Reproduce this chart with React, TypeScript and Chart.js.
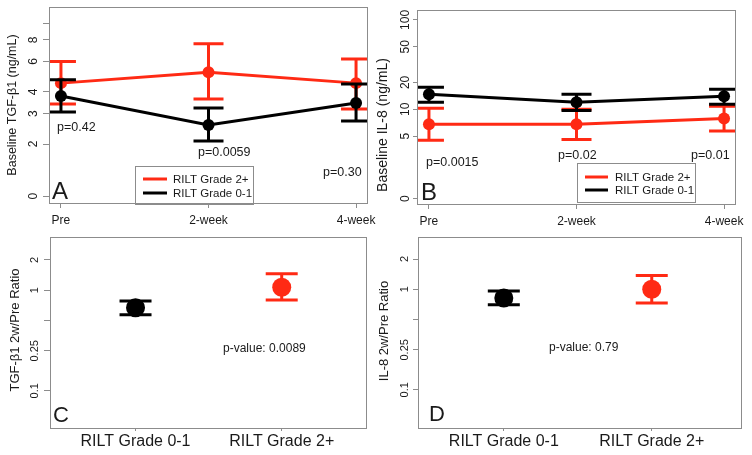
import React, { useEffect, useRef } from "react";
import { Chart, registerables } from "chart.js";
Chart.register(...registerables);

const FONT = "'Liberation Sans', Arial, Helvetica, sans-serif";
const RED = "#ff2a14";
const BLACK = "#000000";
const GRAY = "#8c8c8c";
const TEXT = "#1a1a1a";

// ---------- Panel A : baseline TGF-β1 ----------
const timeLabels = ["Pre", "2-week", "4-week"];
const timeX = [1, 2, 3];
const tgfHighMean = [4.5, 5.2, 4.5];
const tgfHighLow = [3.41, 3.64, 3.19];
const tgfHighUp = [6.0, 7.6, 6.2];
const tgfLowMean = [3.79, 2.58, 3.45];
const tgfLowLow = [3.06, 2.08, 2.72];
const tgfLowUp = [4.7, 3.23, 4.45];
const tgfTicks = [1, 2, 3, 4, 6, 8, 10];
const tgfTickLabels = ["0", "2", "3", "4", "6", "8", ""];
const tgfPValues = ["p=0.42", "p=0.0059", "p=0.30"];

// ---------- Panel B : baseline IL-8 ----------
const il8HighMean = [6.8, 6.8, 7.9];
const il8HighLow = [4.5, 4.6, 5.7];
const il8HighUp = [10.3, 10.0, 10.8];
const il8LowMean = [14.7, 12.0, 14.0];
const il8LowLow = [12.0, 9.7, 11.4];
const il8LowUp = [17.6, 14.7, 16.8];
const il8Ticks = [1, 5, 10, 20, 50, 100];
const il8TickLabels = ["0", "5", "10", "20", "50", "100"];
const il8PValues = ["p=0.0015", "p=0.02", "p=0.01"];

// ---------- Panels C, D : 2w/Pre ratios ----------
const groupLabels = ["RILT Grade 0-1", "RILT Grade 2+"];
const groupX = [1, 2];
const tgfRatioMean = [0.67, 1.07];
const tgfRatioLow = [0.57, 0.8];
const tgfRatioUp = [0.78, 1.46];
const il8RatioMean = [0.82, 1.0];
const il8RatioLow = [0.7, 0.73];
const il8RatioUp = [0.96, 1.37];
const ratioTicks = [0.1, 0.25, 0.5, 1, 2];
const ratioTickLabels = ["0.1", "0.25", "", "1", "2"];
const tgfRatioP = "p-value: 0.0089";
const il8RatioP = "p-value: 0.79";

const legendLabels = ["RILT Grade 2+", "RILT Grade 0-1"];
const legendColors = [RED, BLACK];

type Series = {
  x: number[]; mean: number[]; low: number[]; up: number[];
  color: string; radius: number; showLine: boolean; cap: number; width: number;
};
type TextItem = { text: string; x: number; y: number; size: number; rotate?: boolean; align?: CanvasTextAlign };
type Legend = { x: number; y: number; w: number; h: number; lineX0: number; lineX1: number; textX: number; rows: number[]; size: number };
type Panel = {
  left: number; top: number; w: number; h: number;
  area: { l: number; t: number; r: number; b: number };
  xMin: number; xMax: number; xTicks: number[]; xLabels: string[]; xSize: number; xPad: number; xTickLen: number;
  yMin: number; yMax: number; yTicks: number[]; yLabels: string[]; ySize: number; yPad: number; yTickLen: number;
  series: Series[]; texts: TextItem[]; legend?: Legend;
};

function makeDecor(cfg: Panel) {
  return {
    id: "panelDecor",
    beforeDatasetDraw(chart: any, args: any) {
      const s = cfg.series[args.index];
      if (!s) return;
      const xs = chart.scales.x, ys = chart.scales.y;
      const ctx = chart.ctx as CanvasRenderingContext2D;
      const a = chart.chartArea;
      ctx.save();
      ctx.beginPath();
      ctx.rect(a.left, a.top, a.right - a.left, a.bottom - a.top);
      ctx.clip();
      ctx.strokeStyle = s.color;
      ctx.lineWidth = s.width;
      ctx.lineCap = "butt";
      s.x.forEach((xv, i) => {
        const px = xs.getPixelForValue(xv);
        const lo = ys.getPixelForValue(s.low[i]);
        const hi = ys.getPixelForValue(s.up[i]);
        ctx.beginPath();
        ctx.moveTo(px, lo); ctx.lineTo(px, hi);
        ctx.moveTo(px - s.cap, lo); ctx.lineTo(px + s.cap, lo);
        ctx.moveTo(px - s.cap, hi); ctx.lineTo(px + s.cap, hi);
        ctx.stroke();
      });
      ctx.restore();
    },
    afterDraw(chart: any) {
      const ctx = chart.ctx as CanvasRenderingContext2D;
      const a = chart.chartArea;
      ctx.save();
      ctx.strokeStyle = GRAY;
      ctx.lineWidth = 1;
      ctx.strokeRect(Math.round(a.left) + 0.5, Math.round(a.top) + 0.5, Math.round(a.right - a.left) - 1, Math.round(a.bottom - a.top) - 1);
      if (cfg.legend) {
        const L = cfg.legend;
        ctx.strokeRect(L.x + 0.5, L.y + 0.5, L.w, L.h);
        L.rows.forEach((ry, i) => {
          ctx.strokeStyle = legendColors[i];
          ctx.lineWidth = 3;
          ctx.beginPath();
          ctx.moveTo(L.lineX0, ry); ctx.lineTo(L.lineX1, ry);
          ctx.stroke();
          ctx.fillStyle = TEXT;
          ctx.font = `${L.size}px ${FONT}`;
          ctx.textAlign = "left";
          ctx.textBaseline = "middle";
          ctx.fillText(legendLabels[i], L.textX, ry + 0.5);
        });
      }
      cfg.texts.forEach((t) => {
        ctx.fillStyle = TEXT;
        ctx.font = `${t.size}px ${FONT}`;
        if (t.rotate) {
          ctx.save();
          ctx.translate(t.x, t.y);
          ctx.rotate(-Math.PI / 2);
          ctx.textAlign = "center";
          ctx.textBaseline = "middle";
          ctx.fillText(t.text, 0, 0);
          ctx.restore();
        } else {
          ctx.textAlign = t.align || "left";
          ctx.textBaseline = "alphabetic";
          ctx.fillText(t.text, t.x, t.y);
        }
      });
      ctx.restore();
    },
  };
}

function PanelChart({ cfg }: { cfg: Panel }) {
  const ref = useRef<HTMLCanvasElement>(null);
  useEffect(() => {
    const canvas = ref.current!;
    const chart = new Chart(canvas, {
      type: "line",
      data: {
        datasets: cfg.series.map((s) => ({
          data: s.x.map((x, i) => ({ x, y: s.mean[i] })),
          borderColor: s.color,
          backgroundColor: s.color,
          borderWidth: s.width,
          showLine: s.showLine,
          pointRadius: s.radius,
          pointHoverRadius: s.radius,
          pointBorderWidth: 0,
          tension: 0,
          fill: false,
        })),
      },
      options: {
        responsive: false,
        animation: false,
        events: [],
        layout: { padding: { left: 0, top: cfg.area.t, right: cfg.w - cfg.area.r, bottom: 0 } },
        plugins: { legend: { display: false }, tooltip: { enabled: false } },
        scales: {
          x: {
            type: "linear",
            min: cfg.xMin,
            max: cfg.xMax,
            afterBuildTicks: (s: any) => { s.ticks = cfg.xTicks.map((v) => ({ value: v })); },
            afterFit: (s: any) => { s.height = cfg.h - cfg.area.b; s.paddingLeft = 0; s.paddingRight = 0; },
            ticks: {
              autoSkip: false, maxRotation: 0, minRotation: 0,
              callback: (_v: any, i: number) => cfg.xLabels[i],
              font: { family: FONT, size: cfg.xSize }, color: TEXT, padding: cfg.xPad,
            },
            grid: { display: true, drawOnChartArea: false, drawTicks: true, tickLength: cfg.xTickLen, color: GRAY, lineWidth: 1 },
            border: { display: false },
          },
          y: {
            type: "logarithmic",
            min: cfg.yMin,
            max: cfg.yMax,
            afterBuildTicks: (s: any) => { s.ticks = cfg.yTicks.map((v) => ({ value: v })); },
            afterFit: (s: any) => { s.width = cfg.area.l; s.paddingTop = 0; s.paddingBottom = 0; },
            ticks: {
              autoSkip: false, minRotation: 90, maxRotation: 90, crossAlign: "center",
              callback: (_v: any, i: number) => cfg.yLabels[i],
              font: { family: FONT, size: cfg.ySize }, color: TEXT, padding: cfg.yPad,
            },
            grid: { display: true, drawOnChartArea: false, drawTicks: true, tickLength: cfg.yTickLen, color: GRAY, lineWidth: 1 },
            border: { display: false },
          },
        },
      } as any,
      plugins: [makeDecor(cfg)],
    });
    return () => chart.destroy();
  }, [cfg]);
  return (
    <canvas
      ref={ref}
      width={cfg.w}
      height={cfg.h}
      style={{ position: "absolute", left: cfg.left, top: cfg.top, width: cfg.w, height: cfg.h }}
    />
  );
}

const panelA: Panel = {
  left: 0, top: 0, w: 376, h: 227,
  area: { l: 49, t: 7, r: 368, b: 204 },
  xMin: 0.919, xMax: 3.081, xTicks: timeX, xLabels: timeLabels, xSize: 12, xPad: 5, xTickLen: 4,
  yMin: 0.9, yMax: 12.4, yTicks: tgfTicks, yLabels: tgfTickLabels, ySize: 12, yPad: 6, yTickLen: 6,
  series: [
    { x: timeX, mean: tgfLowMean, low: tgfLowLow, up: tgfLowUp, color: BLACK, radius: 6, showLine: true, cap: 15, width: 3 },
    { x: timeX, mean: tgfHighMean, low: tgfHighLow, up: tgfHighUp, color: RED, radius: 6, showLine: true, cap: 15, width: 3 },
  ],
  texts: [
    { text: tgfPValues[0], x: 57, y: 131, size: 12.5 },
    { text: tgfPValues[1], x: 198, y: 156, size: 12.5 },
    { text: tgfPValues[2], x: 323, y: 176, size: 12.5 },
    { text: "A", x: 52, y: 199, size: 24 },
    { text: "Baseline TGF-β1 (ng/mL)", x: 13, y: 105, size: 12.5, rotate: true },
  ],
  legend: { x: 135, y: 166, w: 118, h: 38, lineX0: 143, lineX1: 167, textX: 173, rows: [179, 193], size: 11.5 },
};

const panelB: Panel = {
  left: 376, top: 0, w: 376, h: 227,
  area: { l: 41, t: 10, r: 360, b: 205 },
  xMin: 0.919, xMax: 3.081, xTicks: timeX, xLabels: timeLabels, xSize: 12, xPad: 5, xTickLen: 4,
  yMin: 0.85, yMax: 129, yTicks: il8Ticks, yLabels: il8TickLabels, ySize: 12, yPad: -3, yTickLen: 4,
  series: [
    { x: timeX, mean: il8LowMean, low: il8LowLow, up: il8LowUp, color: BLACK, radius: 6, showLine: true, cap: 15, width: 3 },
    { x: timeX, mean: il8HighMean, low: il8HighLow, up: il8HighUp, color: RED, radius: 6, showLine: true, cap: 15, width: 3 },
  ],
  texts: [
    { text: il8PValues[0], x: 50, y: 166, size: 12.5 },
    { text: il8PValues[1], x: 182, y: 159, size: 12.5 },
    { text: il8PValues[2], x: 315, y: 159, size: 12.5 },
    { text: "B", x: 45, y: 200, size: 24 },
    { text: "Baseline IL-8 (ng/mL)", x: 7, y: 125, size: 14, rotate: true },
  ],
  legend: { x: 201, y: 163, w: 118, h: 39, lineX0: 209, lineX1: 232, textX: 239, rows: [177, 190], size: 11.5 },
};

const panelC: Panel = {
  left: 0, top: 227, w: 376, h: 228,
  area: { l: 50, t: 5, r: 368, b: 201 },
  xMin: 0.415, xMax: 2.58, xTicks: groupX, xLabels: groupLabels, xSize: 16, xPad: 1, xTickLen: 3,
  yMin: 0.0427, yMax: 3.42, yTicks: ratioTicks, yLabels: ratioTickLabels, ySize: 11, yPad: -2, yTickLen: 6,
  series: [
    { x: [groupX[0]], mean: [tgfRatioMean[0]], low: [tgfRatioLow[0]], up: [tgfRatioUp[0]], color: BLACK, radius: 9.5, showLine: false, cap: 16, width: 3 },
    { x: [groupX[1]], mean: [tgfRatioMean[1]], low: [tgfRatioLow[1]], up: [tgfRatioUp[1]], color: RED, radius: 9.5, showLine: false, cap: 16, width: 3 },
  ],
  texts: [
    { text: tgfRatioP, x: 223, y: 125, size: 12 },
    { text: "C", x: 53, y: 195, size: 22 },
    { text: "TGF-β1 2w/Pre Ratio", x: 15, y: 103, size: 13, rotate: true },
  ],
};

const panelD: Panel = {
  left: 376, top: 227, w: 376, h: 228,
  area: { l: 42, t: 5, r: 366, b: 201 },
  xMin: 0.42, xMax: 2.61, xTicks: groupX, xLabels: groupLabels, xSize: 16, xPad: 1, xTickLen: 3,
  yMin: 0.0417, yMax: 3.35, yTicks: ratioTicks, yLabels: ratioTickLabels, ySize: 11, yPad: -3, yTickLen: 5,
  series: [
    { x: [groupX[0]], mean: [il8RatioMean[0]], low: [il8RatioLow[0]], up: [il8RatioUp[0]], color: BLACK, radius: 9.5, showLine: false, cap: 16, width: 3 },
    { x: [groupX[1]], mean: [il8RatioMean[1]], low: [il8RatioLow[1]], up: [il8RatioUp[1]], color: RED, radius: 9.5, showLine: false, cap: 16, width: 3 },
  ],
  texts: [
    { text: il8RatioP, x: 173, y: 124, size: 12 },
    { text: "D", x: 53, y: 194, size: 22 },
    { text: "IL-8 2w/Pre Ratio", x: 8, y: 104, size: 13, rotate: true },
  ],
};

const panels = [panelA, panelB, panelC, panelD];

export default function App() {
  return (
    <div style={{ position: "absolute", left: 0, top: 0, width: 752, height: 455, background: "#fff" }}>
      {panels.map((p, i) => (
        <PanelChart key={i} cfg={p} />
      ))}
    </div>
  );
}
